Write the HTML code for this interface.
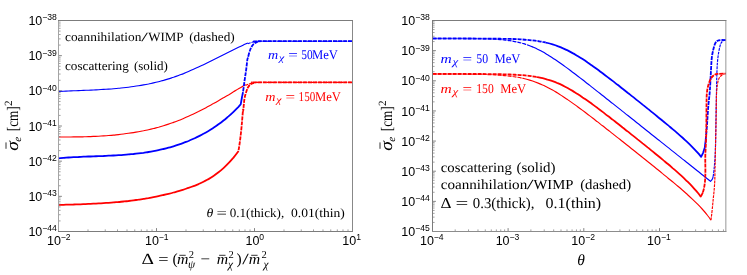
<!DOCTYPE html>
<html><head><meta charset="utf-8"><title>plot</title>
<style>html,body{margin:0;padding:0;background:#fff;}svg{display:block;}</style></head>
<body>
<svg width="747" height="275" viewBox="0 0 747 275" style="will-change:transform">
<rect width="747" height="275" fill="#fff"/>
<defs><clipPath id="cl"><rect x="58.5" y="20.5" width="294.0" height="211.0"/></clipPath><clipPath id="cr"><rect x="432.5" y="20.5" width="293.5" height="211.0"/></clipPath></defs>
<g clip-path="url(#cl)">
<path d="M58.5,91.4 C59.3,91.4 61.8,91.3 63.5,91.2 C65.2,91.1 66.8,91.1 68.5,91.0 C70.2,90.9 71.8,90.9 73.5,90.8 C75.2,90.7 76.8,90.7 78.5,90.6 C80.2,90.5 81.8,90.5 83.5,90.4 C85.2,90.3 86.8,90.3 88.5,90.2 C90.2,90.1 91.8,90.1 93.5,90.0 C95.2,89.9 96.8,89.8 98.5,89.7 C100.2,89.6 101.8,89.5 103.5,89.4 C105.2,89.3 106.8,89.2 108.5,89.1 C110.2,89.0 111.8,88.9 113.5,88.7 C115.2,88.6 116.8,88.5 118.5,88.3 C120.2,88.1 121.8,88.0 123.5,87.8 C125.2,87.6 126.8,87.4 128.5,87.2 C130.2,87.0 131.8,86.8 133.5,86.5 C135.2,86.3 136.8,86.1 138.5,85.8 C140.2,85.5 141.8,85.2 143.5,84.9 C145.2,84.6 146.8,84.3 148.5,84.0 C150.2,83.6 151.8,83.3 153.5,82.9 C155.2,82.5 156.8,82.1 158.5,81.7 C160.2,81.3 161.8,80.8 163.5,80.4 C165.2,79.9 166.8,79.4 168.5,78.9 C170.2,78.4 171.8,77.8 173.5,77.3 C175.2,76.7 176.8,76.1 178.5,75.5 C180.2,74.9 181.8,74.2 183.5,73.6 C185.2,72.9 186.8,72.2 188.5,71.5 C190.2,70.8 191.8,70.1 193.5,69.3 C195.2,68.6 196.8,67.8 198.5,67.0 C200.2,66.3 201.8,65.5 203.5,64.7 C205.2,63.9 206.8,63.0 208.5,62.2 C210.2,61.4 211.8,60.6 213.5,59.7 C215.2,58.9 216.8,58.1 218.5,57.2 C220.2,56.4 221.8,55.6 223.5,54.7 C225.2,53.9 226.8,53.0 228.5,52.2 C230.2,51.4 231.8,50.6 233.5,49.7 C235.2,48.9 236.8,48.1 238.5,47.3 C240.2,46.5 241.9,45.7 243.5,44.9 C245.1,44.2 247.2,43.3 247.9,42.9" fill="none" stroke="#0000ff" stroke-width="1.15" stroke-linejoin="round"/>
<path d="M247.9,43.6 C248.6,43.4 250.7,42.6 252.0,42.3 C253.3,41.9 254.3,41.7 256.0,41.5 C257.7,41.3 254.7,41.2 262.0,41.2 C269.3,41.2 284.8,41.2 300.0,41.2 C315.2,41.2 344.2,41.2 353.0,41.2" fill="none" stroke="#0000ff" stroke-width="1.15" stroke-dasharray="2.8 0.9" stroke-linejoin="round"/>
<path d="M58.5,137.0 C59.3,137.0 61.8,137.0 63.5,137.0 C65.2,137.0 66.8,137.0 68.5,137.0 C70.2,137.0 71.8,136.9 73.5,136.9 C75.2,136.9 76.8,136.9 78.5,136.9 C80.2,136.8 81.8,136.8 83.5,136.8 C85.2,136.7 86.8,136.7 88.5,136.6 C90.2,136.6 91.8,136.5 93.5,136.4 C95.2,136.4 96.8,136.3 98.5,136.2 C100.2,136.1 101.8,136.0 103.5,135.9 C105.2,135.8 106.8,135.7 108.5,135.5 C110.2,135.4 111.8,135.3 113.5,135.1 C115.2,134.9 116.8,134.8 118.5,134.6 C120.2,134.4 121.8,134.2 123.5,134.0 C125.2,133.8 126.8,133.6 128.5,133.3 C130.2,133.1 131.8,132.9 133.5,132.6 C135.2,132.3 136.8,132.0 138.5,131.7 C140.2,131.4 141.8,131.1 143.5,130.8 C145.2,130.4 146.8,130.1 148.5,129.7 C150.2,129.3 151.8,128.9 153.5,128.5 C155.2,128.1 156.8,127.6 158.5,127.2 C160.2,126.7 161.8,126.2 163.5,125.7 C165.2,125.2 166.8,124.7 168.5,124.1 C170.2,123.6 171.8,123.0 173.5,122.4 C175.2,121.8 176.8,121.2 178.5,120.5 C180.2,119.9 181.8,119.2 183.5,118.5 C185.2,117.8 186.8,117.1 188.5,116.3 C190.2,115.6 191.8,114.8 193.5,114.0 C195.2,113.2 196.8,112.4 198.5,111.6 C200.2,110.7 201.8,109.9 203.5,109.0 C205.2,108.1 206.8,107.2 208.5,106.3 C210.2,105.4 211.8,104.5 213.5,103.6 C215.2,102.6 216.8,101.7 218.5,100.7 C220.2,99.8 221.8,98.8 223.5,97.8 C225.2,96.8 226.8,95.8 228.5,94.9 C230.2,93.9 231.8,92.9 233.5,91.8 C235.2,90.8 236.8,89.8 238.5,88.8 C240.2,87.8 242.3,86.5 243.5,85.7 C244.7,85.0 245.2,84.7 245.5,84.5" fill="none" stroke="#ff0000" stroke-width="1.15" stroke-linejoin="round"/>
<path d="M245.5,85.5 C246.1,85.2 247.7,84.4 249.0,84.0 C250.3,83.6 251.6,83.2 253.1,82.9 C254.6,82.6 250.2,82.5 258.0,82.4 C265.8,82.3 284.2,82.4 300.0,82.4 C315.8,82.4 344.2,82.4 353.0,82.4" fill="none" stroke="#ff0000" stroke-width="1.15" stroke-dasharray="2.8 0.9" stroke-linejoin="round"/>
<path d="M58.5,158.3 C59.3,158.2 61.8,158.0 63.5,157.9 C65.2,157.8 66.8,157.6 68.5,157.5 C70.2,157.4 71.8,157.3 73.5,157.2 C75.2,157.1 76.8,157.0 78.5,157.0 C80.2,156.9 81.8,156.8 83.5,156.7 C85.2,156.7 86.8,156.6 88.5,156.5 C90.2,156.5 91.8,156.4 93.5,156.3 C95.2,156.3 96.8,156.2 98.5,156.2 C100.2,156.1 101.8,156.0 103.5,156.0 C105.2,155.9 106.8,155.8 108.5,155.7 C110.2,155.7 111.8,155.6 113.5,155.5 C115.2,155.4 116.8,155.3 118.5,155.2 C120.2,155.1 121.8,155.0 123.5,154.8 C125.2,154.7 126.8,154.6 128.5,154.4 C130.2,154.3 131.8,154.1 133.5,154.0 C135.2,153.8 136.8,153.6 138.5,153.4 C140.2,153.2 141.8,153.0 143.5,152.8 C145.2,152.5 146.8,152.3 148.5,152.0 C150.2,151.7 151.8,151.4 153.5,151.1 C155.2,150.8 156.8,150.5 158.5,150.1 C160.2,149.8 161.8,149.4 163.5,149.0 C165.2,148.6 166.8,148.2 168.5,147.7 C170.2,147.3 171.8,146.8 173.5,146.3 C175.2,145.8 176.8,145.3 178.5,144.7 C180.2,144.1 181.8,143.5 183.5,142.9 C185.2,142.3 186.8,141.6 188.5,141.0 C190.2,140.3 191.8,139.6 193.5,138.8 C195.2,138.0 196.8,137.3 198.5,136.4 C200.2,135.6 201.8,134.7 203.5,133.8 C205.2,132.9 206.8,132.0 208.5,131.0 C210.2,130.0 211.8,128.9 213.5,127.8 C215.2,126.7 216.8,125.6 218.5,124.3 C220.2,123.1 221.8,121.9 223.5,120.5 C225.2,119.2 226.8,117.8 228.5,116.4 C230.2,114.9 231.8,113.4 233.5,111.8 C235.2,110.2 237.3,108.0 238.5,106.8 C239.7,105.5 240.3,104.8 240.7,104.4 L242.2,96" fill="none" stroke="#0000ff" stroke-width="1.8" stroke-linejoin="round"/>
<path d="M58.5,204.9 C59.3,204.9 61.8,204.8 63.5,204.8 C65.2,204.7 66.8,204.7 68.5,204.6 C70.2,204.6 71.8,204.5 73.5,204.5 C75.2,204.4 76.8,204.4 78.5,204.3 C80.2,204.3 81.8,204.2 83.5,204.1 C85.2,204.1 86.8,204.0 88.5,203.9 C90.2,203.9 91.8,203.8 93.5,203.7 C95.2,203.6 96.8,203.5 98.5,203.4 C100.2,203.4 101.8,203.3 103.5,203.1 C105.2,203.0 106.8,202.9 108.5,202.8 C110.2,202.7 111.8,202.6 113.5,202.4 C115.2,202.3 116.8,202.1 118.5,202.0 C120.2,201.8 121.8,201.7 123.5,201.5 C125.2,201.3 126.8,201.1 128.5,201.0 C130.2,200.8 131.8,200.6 133.5,200.3 C135.2,200.1 136.8,199.9 138.5,199.7 C140.2,199.4 141.8,199.2 143.5,198.9 C145.2,198.6 146.8,198.3 148.5,198.1 C150.2,197.8 151.8,197.5 153.5,197.1 C155.2,196.8 156.8,196.5 158.5,196.1 C160.2,195.8 161.8,195.4 163.5,195.0 C165.2,194.6 166.8,194.2 168.5,193.8 C170.2,193.4 171.8,193.0 173.5,192.5 C175.2,192.0 176.8,191.6 178.5,191.1 C180.2,190.6 181.8,190.1 183.5,189.6 C185.2,189.0 186.8,188.5 188.5,187.9 C190.2,187.3 191.8,186.7 193.5,186.1 C195.2,185.5 196.8,184.8 198.5,184.1 C200.2,183.3 201.8,182.6 203.5,181.7 C205.2,180.9 206.8,180.0 208.5,179.1 C210.2,178.1 211.8,177.1 213.5,175.9 C215.2,174.8 216.8,173.6 218.5,172.3 C220.2,171.0 221.8,169.6 223.5,168.1 C225.2,166.6 226.8,165.0 228.5,163.2 C230.2,161.5 231.8,159.6 233.5,157.6 C235.2,155.5 237.8,152.1 238.6,151.0" fill="none" stroke="#ff0000" stroke-width="1.8" stroke-linejoin="round"/>
<path d="M242.2,96.0 C242.3,95.5 242.5,95.1 242.9,92.7 C243.3,90.3 243.9,85.4 244.4,81.8 C244.9,78.2 245.5,74.5 246.0,70.9 C246.5,67.3 247.0,62.2 247.3,60.0 C247.6,57.8 247.4,59.5 247.9,57.7 C248.4,56.0 249.4,51.7 250.3,49.5 C251.2,47.3 252.0,45.8 253.1,44.6 C254.2,43.4 255.4,42.8 256.9,42.2 C258.4,41.6 246.0,41.4 262.0,41.2 C278.0,41.0 337.8,41.2 353.0,41.2" fill="none" stroke="#0000ff" stroke-width="1.8" stroke-dasharray="4 1" stroke-linejoin="round"/>
<path d="M238.6,150.2 C238.9,148.2 239.8,142.8 240.3,138.3 C240.9,133.8 241.5,127.8 241.9,123.1 C242.3,118.4 242.8,112.2 243.0,110.0 C243.2,107.8 243.1,111.9 243.3,110.1 C243.5,108.3 244.0,102.1 244.4,99.2 C244.8,96.3 245.4,94.7 246.0,92.7 C246.6,90.7 247.3,88.7 248.1,87.2 C248.9,85.8 249.8,84.8 251.0,84.0 C252.2,83.2 253.8,82.8 255.3,82.5 C256.8,82.2 243.7,82.4 260.0,82.4 C276.3,82.4 337.5,82.4 353.0,82.4" fill="none" stroke="#ff0000" stroke-width="1.8" stroke-dasharray="4 1" stroke-linejoin="round"/>
</g>
<g clip-path="url(#cr)">
<path d="M432.6,38.5 C433.4,38.5 435.9,38.5 437.6,38.5 C439.3,38.5 440.9,38.5 442.6,38.5 C444.3,38.5 445.9,38.5 447.6,38.5 C449.3,38.5 450.9,38.5 452.6,38.5 C454.3,38.5 455.9,38.5 457.6,38.5 C459.3,38.5 460.9,38.5 462.6,38.5 C464.3,38.5 465.9,38.5 467.6,38.6 C469.3,38.6 470.9,38.6 472.6,38.6 C474.3,38.6 475.9,38.7 477.6,38.7 C479.3,38.7 480.9,38.7 482.6,38.8 C484.3,38.8 485.9,38.9 487.6,38.9 C489.3,39.0 490.9,39.1 492.6,39.1 C494.3,39.2 495.9,39.3 497.6,39.4 C499.3,39.5 500.9,39.7 502.6,39.8 C504.3,40.0 505.9,40.2 507.6,40.4 C509.3,40.6 510.9,40.8 512.6,41.1 C514.3,41.4 515.9,41.7 517.6,42.1 C519.3,42.5 520.9,42.9 522.6,43.4 C524.3,43.8 526.7,44.7 527.6,44.9 C528.5,45.2 527.9,45.1 528.0,45.1" fill="none" stroke="#0000ff" stroke-width="1.15" stroke-dasharray="4 1" stroke-linejoin="round"/>
<path d="M528.0,45.1 C528.8,45.4 531.0,46.2 532.6,46.9 C534.2,47.6 535.9,48.3 537.6,49.2 C539.3,50.0 540.9,50.9 542.6,51.8 C544.3,52.7 545.9,53.7 547.6,54.7 C549.3,55.7 550.9,56.8 552.6,57.9 C554.3,59.0 555.9,60.1 557.6,61.2 C559.3,62.4 560.9,63.6 562.6,64.8 C564.3,66.0 565.9,67.2 567.6,68.4 C569.3,69.7 570.9,70.9 572.6,72.2 C574.3,73.4 575.9,74.7 577.6,76.0 C579.3,77.3 580.9,78.5 582.6,79.8 C584.3,81.1 585.9,82.4 587.6,83.7 C589.3,85.0 590.9,86.3 592.6,87.6 C594.3,89.0 595.9,90.3 597.6,91.6 C599.3,92.9 600.9,94.2 602.6,95.5 C604.3,96.8 605.9,98.2 607.6,99.5 C609.3,100.8 610.9,102.1 612.6,103.4 C614.3,104.8 615.9,106.1 617.6,107.4 C619.3,108.7 620.9,110.0 622.6,111.4 C624.3,112.7 625.9,114.0 627.6,115.3 C629.3,116.7 630.9,118.0 632.6,119.3 C634.3,120.6 635.9,122.0 637.6,123.3 C639.3,124.6 640.9,125.9 642.6,127.2 C644.3,128.6 645.9,129.9 647.6,131.2 C649.3,132.5 650.9,133.9 652.6,135.2 C654.3,136.5 655.9,137.8 657.6,139.2 C659.3,140.5 660.9,141.8 662.6,143.1 C664.3,144.5 665.9,145.8 667.6,147.1 C669.3,148.4 670.9,149.8 672.6,151.1 C674.3,152.4 675.9,153.7 677.6,155.1 C679.3,156.4 680.9,157.7 682.6,159.1 C684.3,160.4 685.9,161.7 687.6,163.0 C689.3,164.4 690.9,165.7 692.6,167.0 C694.3,168.4 695.9,169.7 697.6,171.0 C699.3,172.3 700.9,173.7 702.6,175.0 C704.3,176.4 706.3,178.0 707.6,179.0 C708.9,180.1 710.0,181.0 710.5,181.4 L711.6,180.2 L712.6,178.6 L713.2,176.5" fill="none" stroke="#0000ff" stroke-width="1.15" stroke-linejoin="round"/>
<path d="M713.2,176.5 C713.3,175.4 713.7,173.3 714.0,170.0 C714.3,166.7 714.8,162.2 715.1,156.4 C715.4,150.6 715.5,146.1 715.7,135.0 C715.9,123.9 716.3,100.8 716.5,90.0 C716.7,79.2 716.8,75.4 717.0,70.0 C717.2,64.6 717.5,61.2 717.9,57.8 C718.3,54.4 718.7,52.1 719.2,49.6 C719.7,47.1 720.3,44.5 721.1,43.0 C721.9,41.5 723.2,40.8 724.0,40.3 C724.8,39.8 725.7,40.1 726.0,40.1" fill="none" stroke="#0000ff" stroke-width="1.15" stroke-dasharray="2.8 0.9" stroke-linejoin="round"/>
<path d="M432.6,74.0 C433.4,74.1 435.9,74.1 437.6,74.1 C439.3,74.1 440.9,74.1 442.6,74.1 C444.3,74.1 445.9,74.1 447.6,74.1 C449.3,74.1 450.9,74.1 452.6,74.1 C454.3,74.1 455.9,74.1 457.6,74.1 C459.3,74.1 460.9,74.1 462.6,74.2 C464.3,74.2 465.9,74.2 467.6,74.2 C469.3,74.2 470.9,74.2 472.6,74.3 C474.3,74.3 475.9,74.3 477.6,74.3 C479.3,74.4 480.9,74.4 482.6,74.4 C484.3,74.5 485.9,74.5 487.6,74.6 C489.3,74.6 490.9,74.7 492.6,74.8 C494.3,74.9 495.9,75.0 497.6,75.1 C499.3,75.2 500.9,75.3 502.6,75.4 C504.3,75.5 505.9,75.7 507.6,75.9 C509.3,76.0 510.9,76.2 512.6,76.5 C514.3,76.7 515.9,77.0 517.6,77.3 C519.3,77.6 521.8,78.1 522.6,78.3 C523.5,78.4 522.7,78.3 522.7,78.3" fill="none" stroke="#ff0000" stroke-width="1.15" stroke-dasharray="4 1" stroke-linejoin="round"/>
<path d="M522.7,78.3 C523.5,78.5 526.0,79.1 527.6,79.5 C529.2,80.0 530.9,80.5 532.6,81.0 C534.3,81.6 535.9,82.2 537.6,82.9 C539.3,83.5 540.9,84.2 542.6,85.0 C544.3,85.7 545.9,86.6 547.6,87.4 C549.3,88.3 550.9,89.2 552.6,90.1 C554.3,91.1 555.9,92.1 557.6,93.1 C559.3,94.1 560.9,95.2 562.6,96.3 C564.3,97.4 565.9,98.5 567.6,99.6 C569.3,100.8 570.9,101.9 572.6,103.1 C574.3,104.3 575.9,105.5 577.6,106.7 C579.3,108.0 580.9,109.2 582.6,110.4 C584.3,111.7 585.9,112.9 587.6,114.2 C589.3,115.5 590.9,116.8 592.6,118.0 C594.3,119.3 595.9,120.6 597.6,121.9 C599.3,123.2 600.9,124.5 602.6,125.8 C604.3,127.1 605.9,128.4 607.6,129.7 C609.3,131.0 610.9,132.3 612.6,133.6 C614.3,135.0 615.9,136.3 617.6,137.6 C619.3,138.9 620.9,140.2 622.6,141.5 C624.3,142.9 625.9,144.2 627.6,145.5 C629.3,146.8 630.9,148.2 632.6,149.5 C634.3,150.8 635.9,152.1 637.6,153.5 C639.3,154.8 640.9,156.1 642.6,157.5 C644.3,158.8 645.9,160.1 647.6,161.5 C649.3,162.8 650.9,164.1 652.6,165.5 C654.3,166.8 655.9,168.2 657.6,169.5 C659.3,170.9 660.9,172.2 662.6,173.6 C664.3,174.9 665.9,176.3 667.6,177.7 C669.3,179.0 670.9,180.4 672.6,181.8 C674.3,183.2 675.9,184.6 677.6,186.0 C679.3,187.4 680.9,188.8 682.6,190.3 C684.3,191.7 685.9,193.2 687.6,194.7 C689.3,196.2 690.9,197.7 692.6,199.3 C694.3,200.9 695.9,202.5 697.6,204.2 C699.3,205.9 700.9,207.6 702.6,209.5 C704.3,211.3 706.2,213.7 707.6,215.5 C709.0,217.2 710.4,219.3 710.9,220.1" fill="none" stroke="#ff0000" stroke-width="1.15" stroke-linejoin="round"/>
<path d="M710.9,220.1 C711.0,219.1 711.4,217.0 711.7,214.4 C712.0,211.8 712.4,207.5 712.7,204.5 C713.0,201.5 713.2,199.1 713.5,196.4 C713.8,193.7 714.1,190.9 714.3,188.2 C714.5,185.5 714.7,183.0 714.8,180.0 C714.9,177.0 714.9,173.9 715.0,170.0 C715.1,166.1 715.2,162.5 715.3,156.7 C715.4,150.9 715.6,143.6 715.8,135.0 C716.0,126.4 716.2,112.0 716.3,105.0 C716.4,98.0 716.4,96.2 716.6,92.8 C716.8,89.4 717.0,87.1 717.4,84.6 C717.8,82.1 718.4,79.6 719.2,78.0 C720.0,76.4 721.1,75.7 722.0,75.0 C722.9,74.3 724.1,74.0 724.5,73.8" fill="none" stroke="#ff0000" stroke-width="1.15" stroke-dasharray="2.8 0.9" stroke-linejoin="round"/>
<path d="M432.6,38.5 C433.4,38.5 435.9,38.5 437.6,38.5 C439.3,38.5 440.9,38.5 442.6,38.5 C444.3,38.5 445.9,38.5 447.6,38.5 C449.3,38.5 450.9,38.5 452.6,38.5 C454.3,38.5 455.9,38.5 457.6,38.5 C459.3,38.5 460.9,38.5 462.6,38.5 C464.3,38.5 465.9,38.5 467.6,38.5 C469.3,38.5 470.9,38.5 472.6,38.5 C474.3,38.6 475.9,38.6 477.6,38.6 C479.3,38.6 480.9,38.6 482.6,38.6 C484.3,38.6 485.9,38.6 487.6,38.6 C489.3,38.6 490.9,38.6 492.6,38.7 C494.3,38.7 495.9,38.7 497.6,38.7 C499.3,38.7 500.9,38.8 502.6,38.8 C504.3,38.8 505.9,38.9 507.6,38.9 C509.3,38.9 510.9,39.0 512.6,39.0 C514.3,39.1 515.9,39.2 517.6,39.2 C519.3,39.3 520.9,39.4 522.6,39.5 C524.3,39.6 525.9,39.7 527.6,39.9 C529.3,40.0 530.9,40.2 532.6,40.4 C534.3,40.6 535.9,40.8 537.6,41.0 C539.3,41.3 541.3,41.6 542.6,41.9 C543.9,42.1 545.1,42.4 545.6,42.6" fill="none" stroke="#0000ff" stroke-width="1.8" stroke-dasharray="4 1" stroke-linejoin="round"/>
<path d="M545.6,42.6 C545.9,42.6 546.4,42.7 547.6,43.0 C548.8,43.3 550.9,43.9 552.6,44.4 C554.3,44.9 555.9,45.4 557.6,46.1 C559.3,46.7 560.9,47.3 562.6,48.1 C564.3,48.8 565.9,49.6 567.6,50.4 C569.3,51.2 570.9,52.1 572.6,53.1 C574.3,54.0 575.9,55.0 577.6,56.0 C579.3,57.0 580.9,58.0 582.6,59.1 C584.3,60.2 585.9,61.3 587.6,62.5 C589.3,63.6 590.9,64.8 592.6,66.0 C594.3,67.2 595.9,68.4 597.6,69.6 C599.3,70.8 600.9,72.1 602.6,73.3 C604.3,74.6 605.9,75.8 607.6,77.1 C609.3,78.4 610.9,79.6 612.6,80.9 C614.3,82.2 615.9,83.5 617.6,84.8 C619.3,86.1 620.9,87.4 622.6,88.7 C624.3,90.0 625.9,91.3 627.6,92.7 C629.3,94.0 630.9,95.3 632.6,96.6 C634.3,97.9 635.9,99.3 637.6,100.6 C639.3,101.9 640.9,103.2 642.6,104.6 C644.3,105.9 645.9,107.2 647.6,108.6 C649.3,109.9 650.9,111.3 652.6,112.6 C654.3,114.0 655.9,115.3 657.6,116.7 C659.3,118.0 660.9,119.4 662.6,120.8 C664.3,122.1 665.9,123.5 667.6,124.9 C669.3,126.3 670.9,127.7 672.6,129.1 C674.3,130.5 675.9,131.9 677.6,133.4 C679.3,134.9 680.9,136.3 682.6,137.8 C684.3,139.3 685.9,140.9 687.6,142.4 C689.3,144.0 690.9,145.6 692.6,147.3 C694.3,149.0 696.2,151.1 697.6,152.7 C699.0,154.3 700.5,156.1 701.1,156.8 L703.1,152.8 L704.8,147.4 L705.7,140.0" fill="none" stroke="#0000ff" stroke-width="1.8" stroke-linejoin="round"/>
<path d="M705.7,140.0 C705.9,137.3 706.7,129.4 707.1,123.6 C707.5,117.8 707.9,110.6 708.4,105.0 C708.9,99.4 709.5,95.8 709.9,90.0 C710.3,84.2 710.7,75.4 711.0,70.0 C711.3,64.6 711.4,61.2 711.8,57.8 C712.2,54.4 712.7,52.1 713.3,49.6 C713.9,47.1 714.5,44.5 715.4,43.0 C716.3,41.5 716.9,40.8 718.7,40.3 C720.5,39.8 724.8,40.1 726.0,40.1" fill="none" stroke="#0000ff" stroke-width="1.8" stroke-dasharray="4 1" stroke-linejoin="round"/>
<path d="M432.6,73.9 C433.4,73.9 435.9,73.9 437.6,73.9 C439.3,73.9 440.9,73.9 442.6,73.9 C444.3,73.9 445.9,73.9 447.6,73.9 C449.3,73.9 450.9,73.9 452.6,73.9 C454.3,73.9 455.9,73.9 457.6,73.9 C459.3,73.9 460.9,73.9 462.6,73.9 C464.3,73.9 465.9,74.0 467.6,74.0 C469.3,74.0 470.9,74.0 472.6,74.0 C474.3,74.0 475.9,74.0 477.6,74.0 C479.3,74.0 480.9,74.0 482.6,74.0 C484.3,74.0 485.9,74.0 487.6,74.1 C489.3,74.1 490.9,74.1 492.6,74.1 C494.3,74.1 495.9,74.2 497.6,74.2 C499.3,74.2 500.9,74.2 502.6,74.3 C504.3,74.3 505.9,74.4 507.6,74.4 C509.3,74.5 510.9,74.5 512.6,74.6 C514.3,74.7 515.9,74.8 517.6,74.9 C519.3,75.0 520.9,75.1 522.6,75.2 C524.3,75.4 525.9,75.5 527.6,75.7 C529.3,75.9 531.1,76.1 532.6,76.3 C534.1,76.6 536.2,76.9 536.9,77.0" fill="none" stroke="#ff0000" stroke-width="1.8" stroke-dasharray="4 1" stroke-linejoin="round"/>
<path d="M536.9,77.0 C537.0,77.1 536.6,77.0 537.6,77.2 C538.6,77.4 540.9,77.8 542.6,78.2 C544.3,78.6 545.9,79.1 547.6,79.6 C549.3,80.0 550.9,80.6 552.6,81.2 C554.3,81.8 555.9,82.4 557.6,83.2 C559.3,83.9 560.9,84.6 562.6,85.4 C564.3,86.3 565.9,87.1 567.6,88.0 C569.3,89.0 570.9,89.9 572.6,90.9 C574.3,91.9 575.9,93.0 577.6,94.0 C579.3,95.1 580.9,96.2 582.6,97.4 C584.3,98.5 585.9,99.7 587.6,100.8 C589.3,102.0 590.9,103.2 592.6,104.4 C594.3,105.7 595.9,106.9 597.6,108.1 C599.3,109.4 600.9,110.6 602.6,111.9 C604.3,113.2 605.9,114.5 607.6,115.8 C609.3,117.0 610.9,118.3 612.6,119.6 C614.3,120.9 615.9,122.2 617.6,123.5 C619.3,124.8 620.9,126.1 622.6,127.5 C624.3,128.8 625.9,130.1 627.6,131.4 C629.3,132.7 630.9,134.1 632.6,135.4 C634.3,136.7 635.9,138.0 637.6,139.4 C639.3,140.7 640.9,142.0 642.6,143.4 C644.3,144.7 645.9,146.0 647.6,147.4 C649.3,148.7 650.9,150.1 652.6,151.4 C654.3,152.8 655.9,154.1 657.6,155.5 C659.3,156.9 660.9,158.2 662.6,159.6 C664.3,161.0 665.9,162.4 667.6,163.8 C669.3,165.2 670.9,166.6 672.6,168.1 C674.3,169.5 675.9,170.9 677.6,172.4 C679.3,173.9 680.9,175.4 682.6,176.9 C684.3,178.5 685.9,180.1 687.6,181.7 C689.3,183.4 690.9,185.0 692.6,186.8 C694.3,188.6 696.2,190.9 697.6,192.5 C699.0,194.2 700.2,195.9 700.7,196.6 L701.9,194.5 L702.9,192.3" fill="none" stroke="#ff0000" stroke-width="1.8" stroke-linejoin="round"/>
<path d="M702.9,192.3 C703.1,191.6 703.6,190.2 704.0,188.2 C704.4,186.1 704.9,183.0 705.1,180.0 C705.3,177.0 705.4,173.9 705.4,170.0 C705.4,166.1 705.2,162.5 705.3,156.7 C705.4,150.9 706.0,143.6 706.2,135.0 C706.4,126.4 706.4,112.0 706.5,105.0 C706.6,98.0 706.6,96.2 706.9,92.8 C707.2,89.4 707.8,87.1 708.5,84.6 C709.2,82.1 710.3,79.6 711.3,78.0 C712.3,76.4 713.5,75.5 714.6,74.8 C715.7,74.1 716.0,74.1 717.9,73.9 C719.8,73.7 724.6,73.6 726.0,73.6" fill="none" stroke="#ff0000" stroke-width="1.8" stroke-dasharray="4 1" stroke-linejoin="round"/>
</g>
<line x1="58.50" y1="231.5" x2="58.50" y2="228.10" stroke="#707070" stroke-width="0.85"/>
<line x1="88.00" y1="231.5" x2="88.00" y2="229.40" stroke="#7a7a7a" stroke-width="0.7"/>
<line x1="105.26" y1="231.5" x2="105.26" y2="229.40" stroke="#7a7a7a" stroke-width="0.7"/>
<line x1="117.50" y1="231.5" x2="117.50" y2="229.40" stroke="#7a7a7a" stroke-width="0.7"/>
<line x1="127.00" y1="231.5" x2="127.00" y2="229.40" stroke="#7a7a7a" stroke-width="0.7"/>
<line x1="134.76" y1="231.5" x2="134.76" y2="229.40" stroke="#7a7a7a" stroke-width="0.7"/>
<line x1="141.32" y1="231.5" x2="141.32" y2="229.40" stroke="#7a7a7a" stroke-width="0.7"/>
<line x1="147.00" y1="231.5" x2="147.00" y2="229.40" stroke="#7a7a7a" stroke-width="0.7"/>
<line x1="152.02" y1="231.5" x2="152.02" y2="229.40" stroke="#7a7a7a" stroke-width="0.7"/>
<line x1="156.50" y1="231.5" x2="156.50" y2="228.10" stroke="#707070" stroke-width="0.85"/>
<line x1="186.00" y1="231.5" x2="186.00" y2="229.40" stroke="#7a7a7a" stroke-width="0.7"/>
<line x1="203.26" y1="231.5" x2="203.26" y2="229.40" stroke="#7a7a7a" stroke-width="0.7"/>
<line x1="215.50" y1="231.5" x2="215.50" y2="229.40" stroke="#7a7a7a" stroke-width="0.7"/>
<line x1="225.00" y1="231.5" x2="225.00" y2="229.40" stroke="#7a7a7a" stroke-width="0.7"/>
<line x1="232.76" y1="231.5" x2="232.76" y2="229.40" stroke="#7a7a7a" stroke-width="0.7"/>
<line x1="239.32" y1="231.5" x2="239.32" y2="229.40" stroke="#7a7a7a" stroke-width="0.7"/>
<line x1="245.00" y1="231.5" x2="245.00" y2="229.40" stroke="#7a7a7a" stroke-width="0.7"/>
<line x1="250.02" y1="231.5" x2="250.02" y2="229.40" stroke="#7a7a7a" stroke-width="0.7"/>
<line x1="254.50" y1="231.5" x2="254.50" y2="228.10" stroke="#707070" stroke-width="0.85"/>
<line x1="284.00" y1="231.5" x2="284.00" y2="229.40" stroke="#7a7a7a" stroke-width="0.7"/>
<line x1="301.26" y1="231.5" x2="301.26" y2="229.40" stroke="#7a7a7a" stroke-width="0.7"/>
<line x1="313.50" y1="231.5" x2="313.50" y2="229.40" stroke="#7a7a7a" stroke-width="0.7"/>
<line x1="323.00" y1="231.5" x2="323.00" y2="229.40" stroke="#7a7a7a" stroke-width="0.7"/>
<line x1="330.76" y1="231.5" x2="330.76" y2="229.40" stroke="#7a7a7a" stroke-width="0.7"/>
<line x1="337.32" y1="231.5" x2="337.32" y2="229.40" stroke="#7a7a7a" stroke-width="0.7"/>
<line x1="343.00" y1="231.5" x2="343.00" y2="229.40" stroke="#7a7a7a" stroke-width="0.7"/>
<line x1="348.02" y1="231.5" x2="348.02" y2="229.40" stroke="#7a7a7a" stroke-width="0.7"/>
<line x1="352.50" y1="231.5" x2="352.50" y2="228.10" stroke="#707070" stroke-width="0.85"/>
<line x1="58.5" y1="231.50" x2="61.90" y2="231.50" stroke="#707070" stroke-width="0.85"/>
<line x1="58.5" y1="220.91" x2="60.60" y2="220.91" stroke="#7a7a7a" stroke-width="0.7"/>
<line x1="58.5" y1="214.72" x2="60.60" y2="214.72" stroke="#7a7a7a" stroke-width="0.7"/>
<line x1="58.5" y1="210.33" x2="60.60" y2="210.33" stroke="#7a7a7a" stroke-width="0.7"/>
<line x1="58.5" y1="206.92" x2="60.60" y2="206.92" stroke="#7a7a7a" stroke-width="0.7"/>
<line x1="58.5" y1="204.14" x2="60.60" y2="204.14" stroke="#7a7a7a" stroke-width="0.7"/>
<line x1="58.5" y1="201.78" x2="60.60" y2="201.78" stroke="#7a7a7a" stroke-width="0.7"/>
<line x1="58.5" y1="199.74" x2="60.60" y2="199.74" stroke="#7a7a7a" stroke-width="0.7"/>
<line x1="58.5" y1="197.94" x2="60.60" y2="197.94" stroke="#7a7a7a" stroke-width="0.7"/>
<line x1="58.5" y1="196.33" x2="61.90" y2="196.33" stroke="#707070" stroke-width="0.85"/>
<line x1="58.5" y1="185.75" x2="60.60" y2="185.75" stroke="#7a7a7a" stroke-width="0.7"/>
<line x1="58.5" y1="179.55" x2="60.60" y2="179.55" stroke="#7a7a7a" stroke-width="0.7"/>
<line x1="58.5" y1="175.16" x2="60.60" y2="175.16" stroke="#7a7a7a" stroke-width="0.7"/>
<line x1="58.5" y1="171.75" x2="60.60" y2="171.75" stroke="#7a7a7a" stroke-width="0.7"/>
<line x1="58.5" y1="168.97" x2="60.60" y2="168.97" stroke="#7a7a7a" stroke-width="0.7"/>
<line x1="58.5" y1="166.61" x2="60.60" y2="166.61" stroke="#7a7a7a" stroke-width="0.7"/>
<line x1="58.5" y1="164.57" x2="60.60" y2="164.57" stroke="#7a7a7a" stroke-width="0.7"/>
<line x1="58.5" y1="162.78" x2="60.60" y2="162.78" stroke="#7a7a7a" stroke-width="0.7"/>
<line x1="58.5" y1="161.17" x2="61.90" y2="161.17" stroke="#707070" stroke-width="0.85"/>
<line x1="58.5" y1="150.58" x2="60.60" y2="150.58" stroke="#7a7a7a" stroke-width="0.7"/>
<line x1="58.5" y1="144.39" x2="60.60" y2="144.39" stroke="#7a7a7a" stroke-width="0.7"/>
<line x1="58.5" y1="139.99" x2="60.60" y2="139.99" stroke="#7a7a7a" stroke-width="0.7"/>
<line x1="58.5" y1="136.59" x2="60.60" y2="136.59" stroke="#7a7a7a" stroke-width="0.7"/>
<line x1="58.5" y1="133.80" x2="60.60" y2="133.80" stroke="#7a7a7a" stroke-width="0.7"/>
<line x1="58.5" y1="131.45" x2="60.60" y2="131.45" stroke="#7a7a7a" stroke-width="0.7"/>
<line x1="58.5" y1="129.41" x2="60.60" y2="129.41" stroke="#7a7a7a" stroke-width="0.7"/>
<line x1="58.5" y1="127.61" x2="60.60" y2="127.61" stroke="#7a7a7a" stroke-width="0.7"/>
<line x1="58.5" y1="126.00" x2="61.90" y2="126.00" stroke="#707070" stroke-width="0.85"/>
<line x1="58.5" y1="115.41" x2="60.60" y2="115.41" stroke="#7a7a7a" stroke-width="0.7"/>
<line x1="58.5" y1="109.22" x2="60.60" y2="109.22" stroke="#7a7a7a" stroke-width="0.7"/>
<line x1="58.5" y1="104.83" x2="60.60" y2="104.83" stroke="#7a7a7a" stroke-width="0.7"/>
<line x1="58.5" y1="101.42" x2="60.60" y2="101.42" stroke="#7a7a7a" stroke-width="0.7"/>
<line x1="58.5" y1="98.64" x2="60.60" y2="98.64" stroke="#7a7a7a" stroke-width="0.7"/>
<line x1="58.5" y1="96.28" x2="60.60" y2="96.28" stroke="#7a7a7a" stroke-width="0.7"/>
<line x1="58.5" y1="94.24" x2="60.60" y2="94.24" stroke="#7a7a7a" stroke-width="0.7"/>
<line x1="58.5" y1="92.44" x2="60.60" y2="92.44" stroke="#7a7a7a" stroke-width="0.7"/>
<line x1="58.5" y1="90.83" x2="61.90" y2="90.83" stroke="#707070" stroke-width="0.85"/>
<line x1="58.5" y1="80.25" x2="60.60" y2="80.25" stroke="#7a7a7a" stroke-width="0.7"/>
<line x1="58.5" y1="74.05" x2="60.60" y2="74.05" stroke="#7a7a7a" stroke-width="0.7"/>
<line x1="58.5" y1="69.66" x2="60.60" y2="69.66" stroke="#7a7a7a" stroke-width="0.7"/>
<line x1="58.5" y1="66.25" x2="60.60" y2="66.25" stroke="#7a7a7a" stroke-width="0.7"/>
<line x1="58.5" y1="63.47" x2="60.60" y2="63.47" stroke="#7a7a7a" stroke-width="0.7"/>
<line x1="58.5" y1="61.11" x2="60.60" y2="61.11" stroke="#7a7a7a" stroke-width="0.7"/>
<line x1="58.5" y1="59.07" x2="60.60" y2="59.07" stroke="#7a7a7a" stroke-width="0.7"/>
<line x1="58.5" y1="57.28" x2="60.60" y2="57.28" stroke="#7a7a7a" stroke-width="0.7"/>
<line x1="58.5" y1="55.67" x2="61.90" y2="55.67" stroke="#707070" stroke-width="0.85"/>
<line x1="58.5" y1="45.08" x2="60.60" y2="45.08" stroke="#7a7a7a" stroke-width="0.7"/>
<line x1="58.5" y1="38.89" x2="60.60" y2="38.89" stroke="#7a7a7a" stroke-width="0.7"/>
<line x1="58.5" y1="34.49" x2="60.60" y2="34.49" stroke="#7a7a7a" stroke-width="0.7"/>
<line x1="58.5" y1="31.09" x2="60.60" y2="31.09" stroke="#7a7a7a" stroke-width="0.7"/>
<line x1="58.5" y1="28.30" x2="60.60" y2="28.30" stroke="#7a7a7a" stroke-width="0.7"/>
<line x1="58.5" y1="25.95" x2="60.60" y2="25.95" stroke="#7a7a7a" stroke-width="0.7"/>
<line x1="58.5" y1="23.91" x2="60.60" y2="23.91" stroke="#7a7a7a" stroke-width="0.7"/>
<line x1="58.5" y1="22.11" x2="60.60" y2="22.11" stroke="#7a7a7a" stroke-width="0.7"/>
<line x1="58.5" y1="20.50" x2="61.90" y2="20.50" stroke="#707070" stroke-width="0.85"/>
<path d="M352.5,20.0 V232.0" fill="none" stroke="#888" stroke-width="1"/>
<path d="M58.5,20.0 V232.0" fill="none" stroke="#a4a4a4" stroke-width="1"/>
<path d="M58.0,20.5 H353.0" fill="none" stroke="#7c7c7c" stroke-width="1"/>
<path d="M58.0,231.5 H353.0" fill="none" stroke="#7c7c7c" stroke-width="1"/>
<line x1="455.19" y1="231.5" x2="455.19" y2="229.40" stroke="#7a7a7a" stroke-width="0.7"/>
<line x1="468.52" y1="231.5" x2="468.52" y2="229.40" stroke="#7a7a7a" stroke-width="0.7"/>
<line x1="477.98" y1="231.5" x2="477.98" y2="229.40" stroke="#7a7a7a" stroke-width="0.7"/>
<line x1="485.31" y1="231.5" x2="485.31" y2="229.40" stroke="#7a7a7a" stroke-width="0.7"/>
<line x1="491.31" y1="231.5" x2="491.31" y2="229.40" stroke="#7a7a7a" stroke-width="0.7"/>
<line x1="496.37" y1="231.5" x2="496.37" y2="229.40" stroke="#7a7a7a" stroke-width="0.7"/>
<line x1="500.76" y1="231.5" x2="500.76" y2="229.40" stroke="#7a7a7a" stroke-width="0.7"/>
<line x1="504.64" y1="231.5" x2="504.64" y2="229.40" stroke="#7a7a7a" stroke-width="0.7"/>
<line x1="508.10" y1="231.5" x2="508.10" y2="228.10" stroke="#707070" stroke-width="0.85"/>
<line x1="530.89" y1="231.5" x2="530.89" y2="229.40" stroke="#7a7a7a" stroke-width="0.7"/>
<line x1="544.22" y1="231.5" x2="544.22" y2="229.40" stroke="#7a7a7a" stroke-width="0.7"/>
<line x1="553.68" y1="231.5" x2="553.68" y2="229.40" stroke="#7a7a7a" stroke-width="0.7"/>
<line x1="561.01" y1="231.5" x2="561.01" y2="229.40" stroke="#7a7a7a" stroke-width="0.7"/>
<line x1="567.01" y1="231.5" x2="567.01" y2="229.40" stroke="#7a7a7a" stroke-width="0.7"/>
<line x1="572.07" y1="231.5" x2="572.07" y2="229.40" stroke="#7a7a7a" stroke-width="0.7"/>
<line x1="576.46" y1="231.5" x2="576.46" y2="229.40" stroke="#7a7a7a" stroke-width="0.7"/>
<line x1="580.34" y1="231.5" x2="580.34" y2="229.40" stroke="#7a7a7a" stroke-width="0.7"/>
<line x1="583.80" y1="231.5" x2="583.80" y2="228.10" stroke="#707070" stroke-width="0.85"/>
<line x1="606.59" y1="231.5" x2="606.59" y2="229.40" stroke="#7a7a7a" stroke-width="0.7"/>
<line x1="619.92" y1="231.5" x2="619.92" y2="229.40" stroke="#7a7a7a" stroke-width="0.7"/>
<line x1="629.38" y1="231.5" x2="629.38" y2="229.40" stroke="#7a7a7a" stroke-width="0.7"/>
<line x1="636.71" y1="231.5" x2="636.71" y2="229.40" stroke="#7a7a7a" stroke-width="0.7"/>
<line x1="642.71" y1="231.5" x2="642.71" y2="229.40" stroke="#7a7a7a" stroke-width="0.7"/>
<line x1="647.77" y1="231.5" x2="647.77" y2="229.40" stroke="#7a7a7a" stroke-width="0.7"/>
<line x1="652.16" y1="231.5" x2="652.16" y2="229.40" stroke="#7a7a7a" stroke-width="0.7"/>
<line x1="656.04" y1="231.5" x2="656.04" y2="229.40" stroke="#7a7a7a" stroke-width="0.7"/>
<line x1="659.50" y1="231.5" x2="659.50" y2="228.10" stroke="#707070" stroke-width="0.85"/>
<line x1="682.29" y1="231.5" x2="682.29" y2="229.40" stroke="#7a7a7a" stroke-width="0.7"/>
<line x1="695.62" y1="231.5" x2="695.62" y2="229.40" stroke="#7a7a7a" stroke-width="0.7"/>
<line x1="705.08" y1="231.5" x2="705.08" y2="229.40" stroke="#7a7a7a" stroke-width="0.7"/>
<line x1="712.41" y1="231.5" x2="712.41" y2="229.40" stroke="#7a7a7a" stroke-width="0.7"/>
<line x1="718.41" y1="231.5" x2="718.41" y2="229.40" stroke="#7a7a7a" stroke-width="0.7"/>
<line x1="723.47" y1="231.5" x2="723.47" y2="229.40" stroke="#7a7a7a" stroke-width="0.7"/>
<line x1="432.5" y1="231.50" x2="435.90" y2="231.50" stroke="#707070" stroke-width="0.85"/>
<line x1="432.5" y1="222.43" x2="434.60" y2="222.43" stroke="#7a7a7a" stroke-width="0.7"/>
<line x1="432.5" y1="217.12" x2="434.60" y2="217.12" stroke="#7a7a7a" stroke-width="0.7"/>
<line x1="432.5" y1="213.35" x2="434.60" y2="213.35" stroke="#7a7a7a" stroke-width="0.7"/>
<line x1="432.5" y1="210.43" x2="434.60" y2="210.43" stroke="#7a7a7a" stroke-width="0.7"/>
<line x1="432.5" y1="208.04" x2="434.60" y2="208.04" stroke="#7a7a7a" stroke-width="0.7"/>
<line x1="432.5" y1="206.03" x2="434.60" y2="206.03" stroke="#7a7a7a" stroke-width="0.7"/>
<line x1="432.5" y1="204.28" x2="434.60" y2="204.28" stroke="#7a7a7a" stroke-width="0.7"/>
<line x1="432.5" y1="202.74" x2="434.60" y2="202.74" stroke="#7a7a7a" stroke-width="0.7"/>
<line x1="432.5" y1="201.36" x2="435.90" y2="201.36" stroke="#707070" stroke-width="0.85"/>
<line x1="432.5" y1="192.28" x2="434.60" y2="192.28" stroke="#7a7a7a" stroke-width="0.7"/>
<line x1="432.5" y1="186.98" x2="434.60" y2="186.98" stroke="#7a7a7a" stroke-width="0.7"/>
<line x1="432.5" y1="183.21" x2="434.60" y2="183.21" stroke="#7a7a7a" stroke-width="0.7"/>
<line x1="432.5" y1="180.29" x2="434.60" y2="180.29" stroke="#7a7a7a" stroke-width="0.7"/>
<line x1="432.5" y1="177.90" x2="434.60" y2="177.90" stroke="#7a7a7a" stroke-width="0.7"/>
<line x1="432.5" y1="175.88" x2="434.60" y2="175.88" stroke="#7a7a7a" stroke-width="0.7"/>
<line x1="432.5" y1="174.14" x2="434.60" y2="174.14" stroke="#7a7a7a" stroke-width="0.7"/>
<line x1="432.5" y1="172.59" x2="434.60" y2="172.59" stroke="#7a7a7a" stroke-width="0.7"/>
<line x1="432.5" y1="171.21" x2="435.90" y2="171.21" stroke="#707070" stroke-width="0.85"/>
<line x1="432.5" y1="162.14" x2="434.60" y2="162.14" stroke="#7a7a7a" stroke-width="0.7"/>
<line x1="432.5" y1="156.83" x2="434.60" y2="156.83" stroke="#7a7a7a" stroke-width="0.7"/>
<line x1="432.5" y1="153.07" x2="434.60" y2="153.07" stroke="#7a7a7a" stroke-width="0.7"/>
<line x1="432.5" y1="150.15" x2="434.60" y2="150.15" stroke="#7a7a7a" stroke-width="0.7"/>
<line x1="432.5" y1="147.76" x2="434.60" y2="147.76" stroke="#7a7a7a" stroke-width="0.7"/>
<line x1="432.5" y1="145.74" x2="434.60" y2="145.74" stroke="#7a7a7a" stroke-width="0.7"/>
<line x1="432.5" y1="143.99" x2="434.60" y2="143.99" stroke="#7a7a7a" stroke-width="0.7"/>
<line x1="432.5" y1="142.45" x2="434.60" y2="142.45" stroke="#7a7a7a" stroke-width="0.7"/>
<line x1="432.5" y1="141.07" x2="435.90" y2="141.07" stroke="#707070" stroke-width="0.85"/>
<line x1="432.5" y1="132.00" x2="434.60" y2="132.00" stroke="#7a7a7a" stroke-width="0.7"/>
<line x1="432.5" y1="126.69" x2="434.60" y2="126.69" stroke="#7a7a7a" stroke-width="0.7"/>
<line x1="432.5" y1="122.92" x2="434.60" y2="122.92" stroke="#7a7a7a" stroke-width="0.7"/>
<line x1="432.5" y1="120.00" x2="434.60" y2="120.00" stroke="#7a7a7a" stroke-width="0.7"/>
<line x1="432.5" y1="117.62" x2="434.60" y2="117.62" stroke="#7a7a7a" stroke-width="0.7"/>
<line x1="432.5" y1="115.60" x2="434.60" y2="115.60" stroke="#7a7a7a" stroke-width="0.7"/>
<line x1="432.5" y1="113.85" x2="434.60" y2="113.85" stroke="#7a7a7a" stroke-width="0.7"/>
<line x1="432.5" y1="112.31" x2="434.60" y2="112.31" stroke="#7a7a7a" stroke-width="0.7"/>
<line x1="432.5" y1="110.93" x2="435.90" y2="110.93" stroke="#707070" stroke-width="0.85"/>
<line x1="432.5" y1="101.85" x2="434.60" y2="101.85" stroke="#7a7a7a" stroke-width="0.7"/>
<line x1="432.5" y1="96.55" x2="434.60" y2="96.55" stroke="#7a7a7a" stroke-width="0.7"/>
<line x1="432.5" y1="92.78" x2="434.60" y2="92.78" stroke="#7a7a7a" stroke-width="0.7"/>
<line x1="432.5" y1="89.86" x2="434.60" y2="89.86" stroke="#7a7a7a" stroke-width="0.7"/>
<line x1="432.5" y1="87.47" x2="434.60" y2="87.47" stroke="#7a7a7a" stroke-width="0.7"/>
<line x1="432.5" y1="85.45" x2="434.60" y2="85.45" stroke="#7a7a7a" stroke-width="0.7"/>
<line x1="432.5" y1="83.71" x2="434.60" y2="83.71" stroke="#7a7a7a" stroke-width="0.7"/>
<line x1="432.5" y1="82.16" x2="434.60" y2="82.16" stroke="#7a7a7a" stroke-width="0.7"/>
<line x1="432.5" y1="80.79" x2="435.90" y2="80.79" stroke="#707070" stroke-width="0.85"/>
<line x1="432.5" y1="71.71" x2="434.60" y2="71.71" stroke="#7a7a7a" stroke-width="0.7"/>
<line x1="432.5" y1="66.40" x2="434.60" y2="66.40" stroke="#7a7a7a" stroke-width="0.7"/>
<line x1="432.5" y1="62.64" x2="434.60" y2="62.64" stroke="#7a7a7a" stroke-width="0.7"/>
<line x1="432.5" y1="59.72" x2="434.60" y2="59.72" stroke="#7a7a7a" stroke-width="0.7"/>
<line x1="432.5" y1="57.33" x2="434.60" y2="57.33" stroke="#7a7a7a" stroke-width="0.7"/>
<line x1="432.5" y1="55.31" x2="434.60" y2="55.31" stroke="#7a7a7a" stroke-width="0.7"/>
<line x1="432.5" y1="53.56" x2="434.60" y2="53.56" stroke="#7a7a7a" stroke-width="0.7"/>
<line x1="432.5" y1="52.02" x2="434.60" y2="52.02" stroke="#7a7a7a" stroke-width="0.7"/>
<line x1="432.5" y1="50.64" x2="435.90" y2="50.64" stroke="#707070" stroke-width="0.85"/>
<line x1="432.5" y1="41.57" x2="434.60" y2="41.57" stroke="#7a7a7a" stroke-width="0.7"/>
<line x1="432.5" y1="36.26" x2="434.60" y2="36.26" stroke="#7a7a7a" stroke-width="0.7"/>
<line x1="432.5" y1="32.50" x2="434.60" y2="32.50" stroke="#7a7a7a" stroke-width="0.7"/>
<line x1="432.5" y1="29.57" x2="434.60" y2="29.57" stroke="#7a7a7a" stroke-width="0.7"/>
<line x1="432.5" y1="27.19" x2="434.60" y2="27.19" stroke="#7a7a7a" stroke-width="0.7"/>
<line x1="432.5" y1="25.17" x2="434.60" y2="25.17" stroke="#7a7a7a" stroke-width="0.7"/>
<line x1="432.5" y1="23.42" x2="434.60" y2="23.42" stroke="#7a7a7a" stroke-width="0.7"/>
<line x1="432.5" y1="21.88" x2="434.60" y2="21.88" stroke="#7a7a7a" stroke-width="0.7"/>
<line x1="432.5" y1="20.50" x2="435.90" y2="20.50" stroke="#707070" stroke-width="0.85"/>
<path d="M725.85,20.0 V232.0" fill="none" stroke="#8c8c8c" stroke-width="0.9"/>
<path d="M432.5,20.0 V232.0" fill="none" stroke="#7c7c7c" stroke-width="1"/>
<path d="M432.0,20.5 H726.35" fill="none" stroke="#7c7c7c" stroke-width="1"/>
<path d="M432.0,231.5 H726.35" fill="none" stroke="#8c8c8c" stroke-width="1"/>
<text x="56.9" y="25.1" text-anchor="end" font-family="Liberation Sans, sans-serif" font-size="12.5" fill="#000">10<tspan dy="-4.7" font-size="8.6">−38</tspan></text>
<text x="56.9" y="60.3" text-anchor="end" font-family="Liberation Sans, sans-serif" font-size="12.5" fill="#000">10<tspan dy="-4.7" font-size="8.6">−39</tspan></text>
<text x="56.9" y="95.4" text-anchor="end" font-family="Liberation Sans, sans-serif" font-size="12.5" fill="#000">10<tspan dy="-4.7" font-size="8.6">−40</tspan></text>
<text x="56.9" y="130.6" text-anchor="end" font-family="Liberation Sans, sans-serif" font-size="12.5" fill="#000">10<tspan dy="-4.7" font-size="8.6">−41</tspan></text>
<text x="56.9" y="165.8" text-anchor="end" font-family="Liberation Sans, sans-serif" font-size="12.5" fill="#000">10<tspan dy="-4.7" font-size="8.6">−42</tspan></text>
<text x="56.9" y="200.9" text-anchor="end" font-family="Liberation Sans, sans-serif" font-size="12.5" fill="#000">10<tspan dy="-4.7" font-size="8.6">−43</tspan></text>
<text x="56.9" y="236.1" text-anchor="end" font-family="Liberation Sans, sans-serif" font-size="12.5" fill="#000">10<tspan dy="-4.7" font-size="8.6">−44</tspan></text>
<text x="429.8" y="25.1" text-anchor="end" font-family="Liberation Sans, sans-serif" font-size="12.5" fill="#000">10<tspan dy="-4.7" font-size="8.6">−38</tspan></text>
<text x="429.8" y="55.2" text-anchor="end" font-family="Liberation Sans, sans-serif" font-size="12.5" fill="#000">10<tspan dy="-4.7" font-size="8.6">−39</tspan></text>
<text x="429.8" y="85.4" text-anchor="end" font-family="Liberation Sans, sans-serif" font-size="12.5" fill="#000">10<tspan dy="-4.7" font-size="8.6">−40</tspan></text>
<text x="429.8" y="115.5" text-anchor="end" font-family="Liberation Sans, sans-serif" font-size="12.5" fill="#000">10<tspan dy="-4.7" font-size="8.6">−41</tspan></text>
<text x="429.8" y="145.7" text-anchor="end" font-family="Liberation Sans, sans-serif" font-size="12.5" fill="#000">10<tspan dy="-4.7" font-size="8.6">−42</tspan></text>
<text x="429.8" y="175.8" text-anchor="end" font-family="Liberation Sans, sans-serif" font-size="12.5" fill="#000">10<tspan dy="-4.7" font-size="8.6">−43</tspan></text>
<text x="429.8" y="206.0" text-anchor="end" font-family="Liberation Sans, sans-serif" font-size="12.5" fill="#000">10<tspan dy="-4.7" font-size="8.6">−44</tspan></text>
<text x="429.8" y="236.1" text-anchor="end" font-family="Liberation Sans, sans-serif" font-size="12.5" fill="#000">10<tspan dy="-4.7" font-size="8.6">−45</tspan></text>
<text x="58.8" y="244.8" text-anchor="middle" font-family="Liberation Sans, sans-serif" font-size="12.5" fill="#000">10<tspan dy="-4.7" font-size="8.6">−2</tspan></text>
<text x="156.8" y="244.8" text-anchor="middle" font-family="Liberation Sans, sans-serif" font-size="12.5" fill="#000">10<tspan dy="-4.7" font-size="8.6">−1</tspan></text>
<text x="254.8" y="244.8" text-anchor="middle" font-family="Liberation Sans, sans-serif" font-size="12.5" fill="#000">10<tspan dy="-4.7" font-size="8.6">0</tspan></text>
<text x="351.7" y="244.8" text-anchor="middle" font-family="Liberation Sans, sans-serif" font-size="12.5" fill="#000">10<tspan dy="-4.7" font-size="8.6">1</tspan></text>
<text x="431.8" y="244.8" text-anchor="middle" font-family="Liberation Sans, sans-serif" font-size="12.5" fill="#000">10<tspan dy="-4.7" font-size="8.6">−4</tspan></text>
<text x="507.5" y="244.8" text-anchor="middle" font-family="Liberation Sans, sans-serif" font-size="12.5" fill="#000">10<tspan dy="-4.7" font-size="8.6">−3</tspan></text>
<text x="583.2" y="244.8" text-anchor="middle" font-family="Liberation Sans, sans-serif" font-size="12.5" fill="#000">10<tspan dy="-4.7" font-size="8.6">−2</tspan></text>
<text x="658.9" y="244.8" text-anchor="middle" font-family="Liberation Sans, sans-serif" font-size="12.5" fill="#000">10<tspan dy="-4.7" font-size="8.6">−1</tspan></text>
<text x="65.0" y="41.4" font-family="Liberation Serif, serif" text-rendering="geometricPrecision" font-size="12.7" fill="#000" textLength="76.4" lengthAdjust="spacingAndGlyphs" text-anchor="start">coannihilation</text>
<text x="141.2" y="41.4" font-family="Liberation Serif, serif" text-rendering="geometricPrecision" font-size="12.7" fill="#000" textLength="6.6" lengthAdjust="spacingAndGlyphs" text-anchor="start">/</text>
<text x="148.2" y="41.4" font-family="Liberation Serif, serif" text-rendering="geometricPrecision" font-size="12.7" fill="#000" textLength="35.2" lengthAdjust="spacingAndGlyphs" text-anchor="start">WIMP</text>
<text x="189.2" y="41.4" font-family="Liberation Serif, serif" text-rendering="geometricPrecision" font-size="12.7" fill="#000" textLength="45.6" lengthAdjust="spacingAndGlyphs" text-anchor="start">(dashed)</text>
<text x="65.0" y="69.6" font-family="Liberation Serif, serif" text-rendering="geometricPrecision" font-size="12.7" fill="#000" textLength="63.8" lengthAdjust="spacingAndGlyphs" text-anchor="start">coscattering</text>
<text x="133.9" y="69.6" font-family="Liberation Serif, serif" text-rendering="geometricPrecision" font-size="12.7" fill="#000" textLength="34.0" lengthAdjust="spacingAndGlyphs" text-anchor="start">(solid)</text>
<text x="206.6" y="217.2" font-family="Liberation Serif, serif" text-rendering="geometricPrecision" font-size="12.7" fill="#000" textLength="6.8" lengthAdjust="spacingAndGlyphs" font-style="italic" text-anchor="start">θ</text>
<text x="216.6" y="217.2" font-family="Liberation Serif, serif" text-rendering="geometricPrecision" font-size="12.7" fill="#000" textLength="10.4" lengthAdjust="spacingAndGlyphs" text-anchor="start">=</text>
<text x="229.8" y="217.2" font-family="Liberation Serif, serif" text-rendering="geometricPrecision" font-size="12.7" fill="#000" textLength="54.4" lengthAdjust="spacingAndGlyphs" text-anchor="start">0.1(thick),</text>
<text x="291.0" y="217.2" font-family="Liberation Serif, serif" text-rendering="geometricPrecision" font-size="12.7" fill="#000" textLength="53.8" lengthAdjust="spacingAndGlyphs" text-anchor="start">0.01(thin)</text>
<text x="268.0" y="58.9" font-family="Liberation Serif, serif" text-rendering="geometricPrecision" font-size="13" fill="#0000ff" font-style="italic" textLength="10.2" lengthAdjust="spacingAndGlyphs">m</text>
<text x="279.0" y="61.3" font-family="Liberation Serif, serif" text-rendering="geometricPrecision" font-size="9.8" fill="#0000ff" font-style="italic" textLength="5.2" lengthAdjust="spacingAndGlyphs">χ</text>
<text x="288.2" y="58.9" font-family="Liberation Serif, serif" text-rendering="geometricPrecision" font-size="13" fill="#0000ff" textLength="9.6" lengthAdjust="spacingAndGlyphs">=</text>
<text x="301.3" y="58.9" font-family="Liberation Serif, serif" text-rendering="geometricPrecision" font-size="13.5" fill="#0000ff" textLength="11.4" lengthAdjust="spacingAndGlyphs">50</text>
<text x="312.0" y="58.9" font-family="Liberation Serif, serif" text-rendering="geometricPrecision" font-size="13.5" fill="#0000ff" textLength="26.0" lengthAdjust="spacingAndGlyphs">MeV</text>
<text x="265.2" y="100.5" font-family="Liberation Serif, serif" text-rendering="geometricPrecision" font-size="13" fill="#ff0000" font-style="italic" textLength="10.2" lengthAdjust="spacingAndGlyphs">m</text>
<text x="276.2" y="102.9" font-family="Liberation Serif, serif" text-rendering="geometricPrecision" font-size="9.8" fill="#ff0000" font-style="italic" textLength="5.2" lengthAdjust="spacingAndGlyphs">χ</text>
<text x="285.6" y="100.5" font-family="Liberation Serif, serif" text-rendering="geometricPrecision" font-size="13" fill="#ff0000" textLength="9.6" lengthAdjust="spacingAndGlyphs">=</text>
<text x="298.6" y="100.5" font-family="Liberation Serif, serif" text-rendering="geometricPrecision" font-size="13.5" fill="#ff0000" textLength="16.6" lengthAdjust="spacingAndGlyphs">150</text>
<text x="315.0" y="100.5" font-family="Liberation Serif, serif" text-rendering="geometricPrecision" font-size="13.5" fill="#ff0000" textLength="26.0" lengthAdjust="spacingAndGlyphs">MeV</text>
<text x="440.5" y="62.8" font-family="Liberation Serif, serif" text-rendering="geometricPrecision" font-size="13" fill="#0000ff" font-style="italic" textLength="11.2" lengthAdjust="spacingAndGlyphs">m</text>
<text x="452.5" y="65.2" font-family="Liberation Serif, serif" text-rendering="geometricPrecision" font-size="10.6" fill="#0000ff" font-style="italic" textLength="5.8" lengthAdjust="spacingAndGlyphs">χ</text>
<text x="462.4" y="62.8" font-family="Liberation Serif, serif" text-rendering="geometricPrecision" font-size="13" fill="#0000ff" textLength="9.6" lengthAdjust="spacingAndGlyphs">=</text>
<text x="476.3" y="62.8" font-family="Liberation Serif, serif" text-rendering="geometricPrecision" font-size="13.5" fill="#0000ff" textLength="11.8" lengthAdjust="spacingAndGlyphs">50</text>
<text x="494.4" y="62.8" font-family="Liberation Serif, serif" text-rendering="geometricPrecision" font-size="13.5" fill="#0000ff" textLength="26.0" lengthAdjust="spacingAndGlyphs">MeV</text>
<text x="440.5" y="92.7" font-family="Liberation Serif, serif" text-rendering="geometricPrecision" font-size="13" fill="#ff0000" font-style="italic" textLength="11.2" lengthAdjust="spacingAndGlyphs">m</text>
<text x="452.5" y="95.1" font-family="Liberation Serif, serif" text-rendering="geometricPrecision" font-size="10.6" fill="#ff0000" font-style="italic" textLength="5.8" lengthAdjust="spacingAndGlyphs">χ</text>
<text x="462.4" y="92.7" font-family="Liberation Serif, serif" text-rendering="geometricPrecision" font-size="13" fill="#ff0000" textLength="9.6" lengthAdjust="spacingAndGlyphs">=</text>
<text x="476.3" y="92.7" font-family="Liberation Serif, serif" text-rendering="geometricPrecision" font-size="13.5" fill="#ff0000" textLength="17.4" lengthAdjust="spacingAndGlyphs">150</text>
<text x="500.2" y="92.7" font-family="Liberation Serif, serif" text-rendering="geometricPrecision" font-size="13.5" fill="#ff0000" textLength="26.0" lengthAdjust="spacingAndGlyphs">MeV</text>
<text x="440.8" y="172.2" font-family="Liberation Serif, serif" text-rendering="geometricPrecision" font-size="13.9" fill="#000" textLength="71.0" lengthAdjust="spacingAndGlyphs" text-anchor="start">coscattering</text>
<text x="516.4" y="172.2" font-family="Liberation Serif, serif" text-rendering="geometricPrecision" font-size="13.9" fill="#000" textLength="39.2" lengthAdjust="spacingAndGlyphs" text-anchor="start">(solid)</text>
<text x="440.8" y="188.7" font-family="Liberation Serif, serif" text-rendering="geometricPrecision" font-size="13.9" fill="#000" textLength="86.4" lengthAdjust="spacingAndGlyphs" text-anchor="start">coannihilation</text>
<text x="526.8" y="188.7" font-family="Liberation Serif, serif" text-rendering="geometricPrecision" font-size="13.9" fill="#000" textLength="6.8" lengthAdjust="spacingAndGlyphs" text-anchor="start">/</text>
<text x="533.4" y="188.7" font-family="Liberation Serif, serif" text-rendering="geometricPrecision" font-size="13.9" fill="#000" textLength="40.0" lengthAdjust="spacingAndGlyphs" text-anchor="start">WIMP</text>
<text x="580.2" y="188.7" font-family="Liberation Serif, serif" text-rendering="geometricPrecision" font-size="13.9" fill="#000" textLength="51.0" lengthAdjust="spacingAndGlyphs" text-anchor="start">(dashed)</text>
<text x="440.6" y="207.8" font-family="Liberation Serif, serif" text-rendering="geometricPrecision" font-size="15.0" fill="#000" textLength="11.0" lengthAdjust="spacingAndGlyphs" text-anchor="start">Δ</text>
<text x="455.6" y="207.8" font-family="Liberation Serif, serif" text-rendering="geometricPrecision" font-size="15.0" fill="#000" textLength="12.8" lengthAdjust="spacingAndGlyphs" text-anchor="start">=</text>
<text x="472.8" y="207.8" font-family="Liberation Serif, serif" text-rendering="geometricPrecision" font-size="15.0" fill="#000" textLength="61.6" lengthAdjust="spacingAndGlyphs" text-anchor="start">0.3(thick),</text>
<text x="545.6" y="207.8" font-family="Liberation Serif, serif" text-rendering="geometricPrecision" font-size="15.0" fill="#000" textLength="55.6" lengthAdjust="spacingAndGlyphs" text-anchor="start">0.1(thin)</text>
<text x="141.6" y="264.1" font-family="Liberation Serif, serif" text-rendering="geometricPrecision" font-size="15.5" fill="#000" textLength="12.5" lengthAdjust="spacingAndGlyphs" text-anchor="start">Δ</text>
<text x="158.2" y="264.1" font-family="Liberation Serif, serif" text-rendering="geometricPrecision" font-size="15.5" fill="#000" textLength="10.3" lengthAdjust="spacingAndGlyphs" text-anchor="start">=</text>
<text x="172.4" y="264.1" font-family="Liberation Serif, serif" text-rendering="geometricPrecision" font-size="15.5" fill="#000" text-anchor="start">(</text>
<text x="176.9" y="264.1" font-family="Liberation Serif, serif" text-rendering="geometricPrecision" font-size="15" font-style="italic" textLength="11.4" lengthAdjust="spacingAndGlyphs">m</text>
<line x1="179.3" y1="255.3" x2="185.70000000000002" y2="255.3" stroke="#000" stroke-width="0.8"/>
<text x="188.70000000000002" y="258.3" font-family="Liberation Serif, serif" text-rendering="geometricPrecision" font-size="10.5">2</text>
<text x="188.1" y="267.70000000000005" font-family="Liberation Serif, serif" text-rendering="geometricPrecision" font-size="11.4" font-style="italic">ψ</text>
<text x="200.6" y="264.1" font-family="Liberation Serif, serif" text-rendering="geometricPrecision" font-size="15.5" fill="#000" textLength="9.6" lengthAdjust="spacingAndGlyphs" text-anchor="start">−</text>
<text x="216.7" y="264.1" font-family="Liberation Serif, serif" text-rendering="geometricPrecision" font-size="15" font-style="italic" textLength="11.4" lengthAdjust="spacingAndGlyphs">m</text>
<line x1="219.1" y1="255.3" x2="225.5" y2="255.3" stroke="#000" stroke-width="0.8"/>
<text x="228.5" y="258.3" font-family="Liberation Serif, serif" text-rendering="geometricPrecision" font-size="10.5">2</text>
<text x="227.89999999999998" y="267.70000000000005" font-family="Liberation Serif, serif" text-rendering="geometricPrecision" font-size="11.4" font-style="italic">χ</text>
<text x="236.6" y="264.1" font-family="Liberation Serif, serif" text-rendering="geometricPrecision" font-size="15.5" fill="#000" text-anchor="start">)</text>
<text x="242.2" y="264.1" font-family="Liberation Serif, serif" text-rendering="geometricPrecision" font-size="15.5" fill="#000" textLength="6.5" lengthAdjust="spacingAndGlyphs" text-anchor="start">/</text>
<text x="248.8" y="264.1" font-family="Liberation Serif, serif" text-rendering="geometricPrecision" font-size="15" font-style="italic" textLength="11.4" lengthAdjust="spacingAndGlyphs">m</text>
<line x1="251.20000000000002" y1="255.3" x2="257.6" y2="255.3" stroke="#000" stroke-width="0.8"/>
<text x="261.6" y="258.3" font-family="Liberation Serif, serif" text-rendering="geometricPrecision" font-size="10.5">2</text>
<text x="263.40000000000003" y="267.70000000000005" font-family="Liberation Serif, serif" text-rendering="geometricPrecision" font-size="11.4" font-style="italic">χ</text>
<text x="577.2" y="264.6" font-family="Liberation Serif, serif" text-rendering="geometricPrecision" font-size="15.5" fill="#000" font-style="italic" text-anchor="start">θ</text>
<g transform="translate(17.6,150.8) rotate(-90)">
<text x="0" y="0" font-family="Liberation Serif, serif" text-rendering="geometricPrecision" font-size="17.5" font-style="italic" textLength="9.6" lengthAdjust="spacingAndGlyphs">σ</text>
<line x1="2.0" y1="-11.6" x2="8.4" y2="-11.6" stroke="#000" stroke-width="0.8"/>
<text x="9.0" y="3.2" font-family="Liberation Serif, serif" text-rendering="geometricPrecision" font-size="11" font-style="italic">e</text>
<text x="19.6" y="0" font-family="Liberation Serif, serif" text-rendering="geometricPrecision" font-size="16" textLength="24.8" lengthAdjust="spacingAndGlyphs">[cm]</text>
<text x="44.8" y="-6.0" font-family="Liberation Serif, serif" text-rendering="geometricPrecision" font-size="11">2</text>
</g>
<g transform="translate(391.6,150.8) rotate(-90)">
<text x="0" y="0" font-family="Liberation Serif, serif" text-rendering="geometricPrecision" font-size="17.5" font-style="italic" textLength="9.6" lengthAdjust="spacingAndGlyphs">σ</text>
<line x1="2.0" y1="-11.6" x2="8.4" y2="-11.6" stroke="#000" stroke-width="0.8"/>
<text x="9.0" y="3.2" font-family="Liberation Serif, serif" text-rendering="geometricPrecision" font-size="11" font-style="italic">e</text>
<text x="19.6" y="0" font-family="Liberation Serif, serif" text-rendering="geometricPrecision" font-size="16" textLength="24.8" lengthAdjust="spacingAndGlyphs">[cm]</text>
<text x="44.8" y="-6.0" font-family="Liberation Serif, serif" text-rendering="geometricPrecision" font-size="11">2</text>
</g>
</svg>
</body></html>
